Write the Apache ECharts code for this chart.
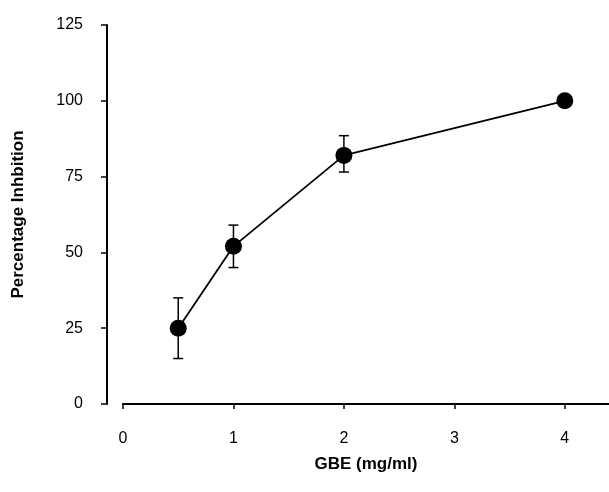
<!DOCTYPE html>
<html>
<head>
<meta charset="utf-8">
<script src="https://cdn.jsdelivr.net/npm/echarts@6/dist/echarts.min.js"></script>
<style>html,body{margin:0;padding:0;background:#fff;}#chart{width:609px;height:492px;}</style>
</head>
<body>
<div id="chart"></div>
<script>
var concentrations = [0.5, 1, 2, 4];
var inhibition = [25, 52, 82, 100];
var errLow = [15, 45, 76.5, 100];
var errHigh = [35, 59, 88.5, 100];
var xTicks = [0, 1, 2, 3, 4];
var yTicks = [0, 25, 50, 75, 100, 125];

var font = 'Liberation Sans, Arial, sans-serif';
var chart = echarts.init(document.getElementById('chart'));
var lineData = concentrations.map(function (x, i) { return [x, inhibition[i]]; });
var errData = concentrations.map(function (x, i) { return [x, errLow[i], errHigh[i]]; });

chart.setOption({
  animation: false,
  backgroundColor: '#fff',
  grid: { left: 123, right: 0, top: 25, bottom: 88 },
  xAxis: {
    type: 'value', min: 0, max: 4.4, interval: 1,
    name: 'GBE (mg/ml)', nameLocation: 'middle', nameGap: 52,
    nameTextStyle: { fontFamily: font, fontSize: 17, fontWeight: 'bold', color: '#000' },
    axisLine: { show: true, onZero: false, lineStyle: { color: '#000', width: 2 } },
    axisTick: { show: true, length: 5, customValues: xTicks, lineStyle: { color: '#000', width: 1.5 } },
    splitLine: { show: false },
    axisLabel: {
      margin: 27, fontFamily: font, fontSize: 16, color: '#000',
      customValues: xTicks
    }
  },
  yAxis: {
    type: 'value', min: 0, max: 125, interval: 25, offset: 16,
    name: 'Percentage Inhbition', nameLocation: 'middle', nameGap: 80,
    nameTextStyle: { fontFamily: font, fontSize: 17, fontWeight: 'bold', color: '#000' },
    axisLine: { show: true, onZero: false, lineStyle: { color: '#000', width: 2 } },
    axisTick: { show: true, length: 6, customValues: yTicks, lineStyle: { color: '#000', width: 1.5 } },
    splitLine: { show: false },
    axisLabel: {
      margin: 24, fontFamily: font, fontSize: 16, color: '#000',
      customValues: yTicks
    }
  },
  series: [
    {
      type: 'custom',
      data: errData,
      z: 1,
      renderItem: function (params, api) {
        var x = api.value(0);
        var lo = api.coord([x, api.value(1)]);
        var hi = api.coord([x, api.value(2)]);
        var hw = 5;
        var style = { stroke: '#000', lineWidth: 1.5 };
        return {
          type: 'group',
          children: [
            { type: 'line', shape: { x1: lo[0], y1: lo[1], x2: hi[0], y2: hi[1] }, style: style },
            { type: 'line', shape: { x1: hi[0] - hw, y1: hi[1], x2: hi[0] + hw, y2: hi[1] }, style: style },
            { type: 'line', shape: { x1: lo[0] - hw, y1: lo[1], x2: lo[0] + hw, y2: lo[1] }, style: style }
          ]
        };
      }
    },
    {
      type: 'line',
      data: lineData,
      z: 3,
      symbol: 'circle',
      symbolSize: 17,
      itemStyle: { color: '#000' },
      lineStyle: { color: '#000', width: 1.8 }
    }
  ]
});
</script>
</body>
</html>
